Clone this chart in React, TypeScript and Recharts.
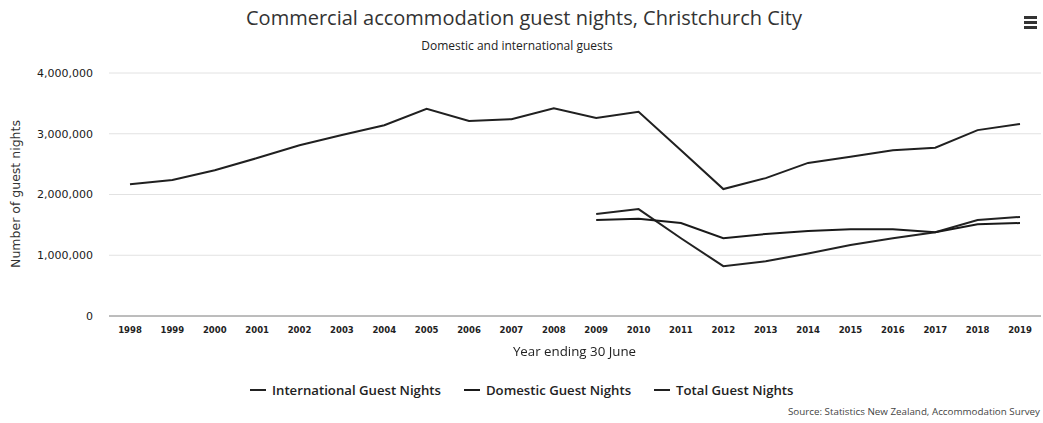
import { LineChart, Line, XAxis, YAxis, CartesianGrid } from "recharts";

const years = [
  "1998", "1999", "2000", "2001", "2002", "2003", "2004", "2005", "2006", "2007", "2008",
  "2009", "2010", "2011", "2012", "2013", "2014", "2015", "2016", "2017", "2018", "2019",
];
const international = [
  null, null, null, null, null, null, null, null, null, null, null,
  1680000, 1760000, 1280000, 820000, 900000, 1030000, 1170000, 1280000, 1380000, 1580000, 1630000,
];
const domestic = [
  null, null, null, null, null, null, null, null, null, null, null,
  1580000, 1600000, 1530000, 1280000, 1350000, 1400000, 1430000, 1430000, 1380000, 1510000, 1530000,
];
const total = [
  2170000, 2240000, 2400000, 2600000, 2810000, 2980000, 3140000, 3410000, 3210000, 3240000, 3420000,
  3260000, 3360000, 2730000, 2090000, 2270000, 2520000, 2620000, 2730000, 2770000, 3060000, 3160000,
];
const yTicks = [0, 1000000, 2000000, 3000000, 4000000];

const data = years.map((year, i) => ({
  year,
  international: international[i],
  domestic: domestic[i],
  total: total[i],
}));

const series = [
  { key: "international", name: "International Guest Nights", color: "#222" },
  { key: "domestic", name: "Domestic Guest Nights", color: "#1a1a1a" },
  { key: "total", name: "Total Guest Nights", color: "#202020" },
];

const fmt = (v: number) => v.toLocaleString("en-US");

export default function App() {
  return (
    <div style={{ position: "fixed", left: 0, top: 0, width: 1043, height: 423, background: "#fff" }}>
      <div
        style={{
          position: "absolute", left: 0, top: 4, width: 1048, textAlign: "center",
          fontFamily: "'Open Sans'", fontSize: 20, color: "#333",
        }}
      >
        Commercial accommodation guest nights, Christchurch City
      </div>
      <div
        style={{
          position: "absolute", left: 1024, top: 16, width: 13,
        }}
      >
        {[0, 1, 2].map((i) => (
          <div key={i} style={{ height: 3, background: "#333", marginBottom: 2 }} />
        ))}
      </div>
      <div
        style={{
          position: "absolute", left: 0, top: 37, width: 1034, textAlign: "center",
          fontFamily: "'Open Sans'", fontSize: 12, color: "#222",
        }}
      >
        Domestic and international guests
      </div>
      <div
        style={{
          position: "absolute", left: 15, top: 194, transform: "translate(-50%, -50%) rotate(-90deg)",
          whiteSpace: "nowrap", fontFamily: "'DejaVu Sans'", fontSize: 12.5, color: "#333",
        }}
      >
        Number of guest nights
      </div>
      <LineChart
        width={1043}
        height={423}
        data={data}
        margin={{ top: 73, right: 2, bottom: 77, left: 0 }}
        style={{ position: "absolute", left: 0, top: 0 }}
      >
        <CartesianGrid vertical={false} stroke="#e2e2e2" />
        <XAxis
          dataKey="year"
          tickLine={false}
          axisLine={{ stroke: "#888" }}
          tickMargin={5}
          interval={0}
          padding={{ left: 21, right: 21 }}
          tick={{ fontFamily: "'DejaVu Sans'", fontSize: 8.5, fontWeight: "bold", fill: "#222" }}
        />
        <YAxis
          width={109}
          domain={[0, 4000000]}
          ticks={yTicks}
          tickFormatter={fmt}
          axisLine={false}
          tickLine={false}
          tickMargin={10}
          tick={{ fontFamily: "'DejaVu Sans'", fontSize: 11, fill: "#1a1a1a" }}
        />
        {series.map((s) => (
          <Line
            key={s.key}
            dataKey={s.key}
            name={s.name}
            stroke={s.color}
            strokeWidth={2}
            dot={false}
            activeDot={false}
            isAnimationActive={false}
          />
        ))}
      </LineChart>
      <div
        style={{
          position: "absolute", left: 0, top: 342, width: 1149, textAlign: "center",
          fontFamily: "'Open Sans'", fontSize: 13.3, color: "#222",
        }}
      >
        Year ending 30 June
      </div>
      <div
        style={{
          position: "absolute", left: 250, top: 381, display: "flex", gap: 23,
          fontFamily: "'Open Sans'", fontSize: 13.2, fontWeight: 600, color: "#222",
        }}
      >
        {series.map((s) => (
          <div key={s.key} style={{ display: "flex", alignItems: "center" }}>
            <div style={{ width: 16, height: 2, background: s.color, marginRight: 6 }} />
            <span>{s.name}</span>
          </div>
        ))}
      </div>
      <div
        style={{
          position: "absolute", right: 3, top: 405, fontFamily: "'Open Sans'",
          fontSize: 9.8, color: "#444",
        }}
      >
        Source: Statistics New Zealand, Accommodation Survey
      </div>
    </div>
  );
}
